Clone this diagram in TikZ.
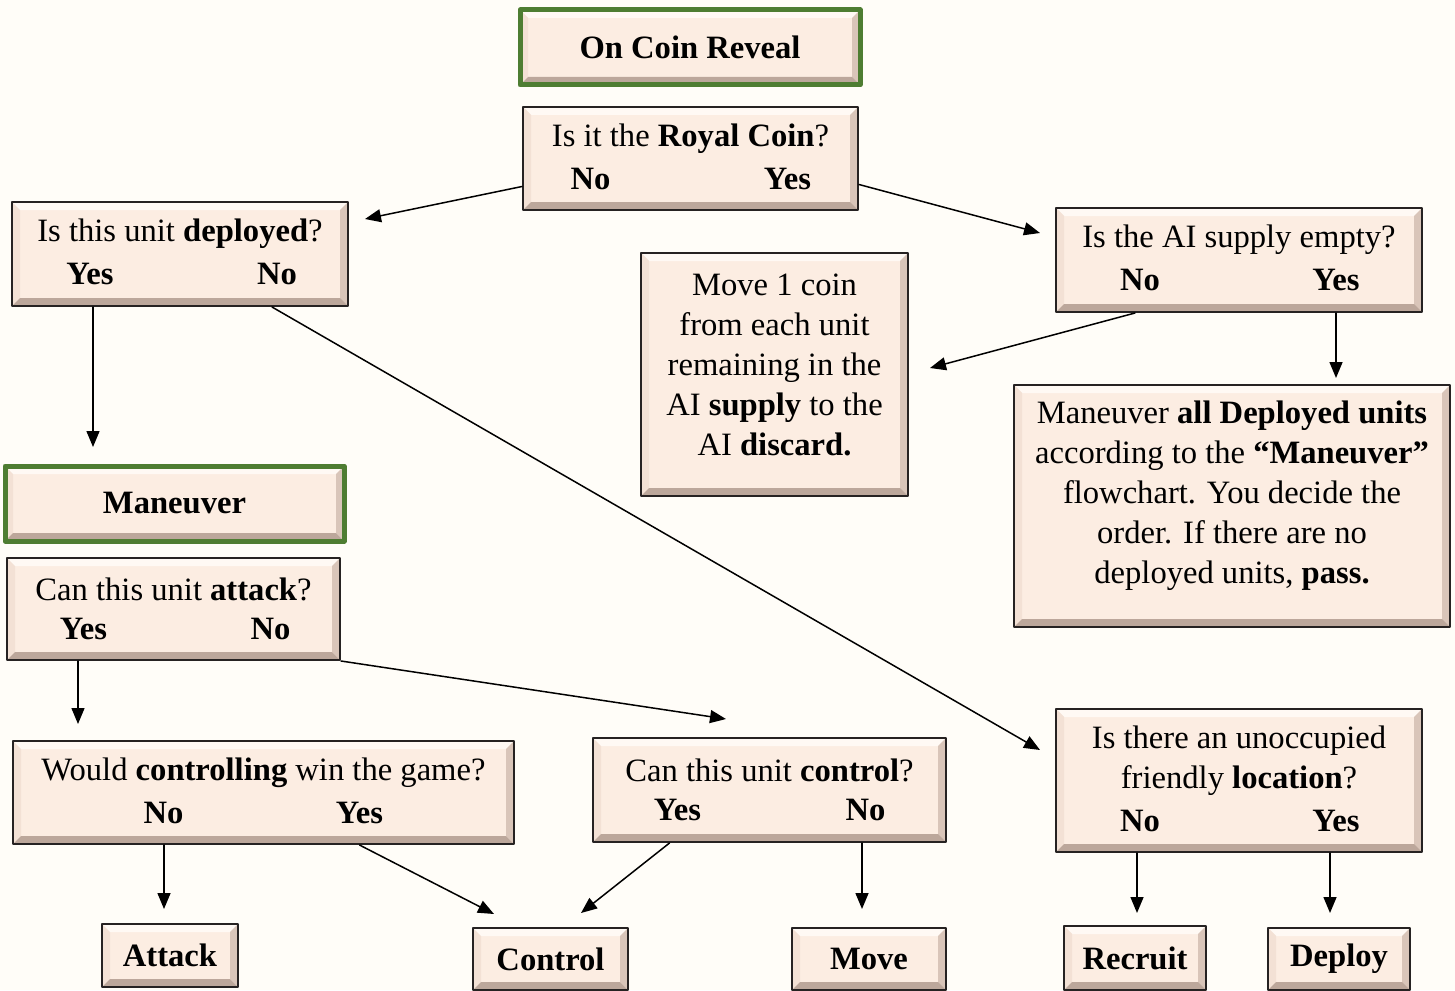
\documentclass[tikz,border=0pt]{standalone}
\usepackage{fontspec}
\setmainfont{Liberation Serif}
\usetikzlibrary{arrows.meta,calc}

\definecolor{paper}{HTML}{FFFDF8}
\definecolor{boxfill}{HTML}{FCEDE2}
\definecolor{bevtop}{HTML}{FFF9F4}
\definecolor{bevleft}{HTML}{F3E1D5}
\definecolor{bevright}{HTML}{D9C5B9}
\definecolor{bevbot}{HTML}{BCA79B}
\definecolor{boxline}{HTML}{262222}
\definecolor{ttlgreen}{HTML}{4E7D32}

\newcommand{\boxfont}{\fontsize{16.3}{20}\selectfont}
% bevel faces of a box
\newcommand{\bevelfaces}{%
  \fill[bevtop] (path picture bounding box.north west) -- (path picture bounding box.north east)
    -- ([shift={(-4pt,-4pt)}]path picture bounding box.north east) -- ([shift={(4pt,-4pt)}]path picture bounding box.north west) -- cycle;
  \fill[bevleft] (path picture bounding box.north west) -- (path picture bounding box.south west)
    -- ([shift={(4pt,4pt)}]path picture bounding box.south west) -- ([shift={(4pt,-4pt)}]path picture bounding box.north west) -- cycle;
  \fill[bevright] (path picture bounding box.north east) -- (path picture bounding box.south east)
    -- ([shift={(-4pt,4pt)}]path picture bounding box.south east) -- ([shift={(-4pt,-4pt)}]path picture bounding box.north east) -- cycle;
  \fill[bevbot] (path picture bounding box.south west) -- (path picture bounding box.south east)
    -- ([shift={(-4pt,4pt)}]path picture bounding box.south east) -- ([shift={(4pt,4pt)}]path picture bounding box.south west) -- cycle;
}

\begin{document}
\begin{tikzpicture}[x=0.5pt, y=-0.5pt, line join=round, line cap=round,
    box/.style={draw=boxline, line width=1pt, fill=boxfill, path picture={\bevelfaces}, inner sep=0pt},
    ttl/.style={box, draw=ttlgreen, line width=2.5pt, font=\boxfont\bfseries},
    endbox/.style={box, font=\boxfont\bfseries},
    txt/.style={font=\boxfont, align=center, inner sep=0pt},
    ans/.style={font=\boxfont\bfseries, inner sep=0pt},
    flow/.style={-{Triangle[length=8pt, width=6.5pt]}, line width=0.75pt}]

    \fill[paper] (0,0) rectangle (1455,990);
    \useasboundingbox (0,0) rectangle (1455,990);

    % titles
    \node[ttl, minimum width=170pt, minimum height=37.5pt] (reveal) at (690,47.5) {On Coin Reveal};
    \node[ttl, minimum width=169.5pt, minimum height=37.5pt] (maneuver) at (174.5,503.5) {Maneuver};

    % questions
    \node[box, minimum width=167.5pt, minimum height=51.5pt] (royal) at (690.5,158.5) {};
    \node[txt] (royalq) at ([yshift=10pt]royal.center) {Is it the \textbf{Royal Coin}?};
    \node[ans] (royalno) at ([xshift=-50pt, yshift=-10pt]royal.center) {No};
    \node[ans] (royalyes) at ([xshift=48.5pt, yshift=-10pt]royal.center) {Yes};

    \node[box, minimum width=168pt, minimum height=52pt] (dep) at (180,254) {};
    \node[txt] (depq) at ([yshift=10pt]dep.center) {Is this unit \textbf{deployed}?};
    \node[ans] (depyes) at ([xshift=-45pt, yshift=-10pt]dep.center) {Yes};
    \node[ans] (depno) at ([xshift=48.5pt, yshift=-10pt]dep.center) {No};

    \node[box, minimum width=183pt, minimum height=52pt] (supply) at (1239,260) {};
    \node[txt] (supplyq) at ([yshift=10pt]supply.center) {Is the AI supply empty?};
    \node[ans] (supplyno) at ([xshift=-49.5pt, yshift=-10pt]supply.center) {No};
    \node[ans] (supplyyes) at ([xshift=48.5pt, yshift=-10pt]supply.center) {Yes};

    \node[box, minimum width=166.5pt, minimum height=51pt] (atk) at (173.5,609) {};
    \node[txt] (atkq) at ([yshift=10pt]atk.center) {Can this unit \textbf{attack}?};
    \node[ans] (atkyes) at ([xshift=-45pt, yshift=-10pt]atk.center) {Yes};
    \node[ans] (atkno) at ([xshift=48.5pt, yshift=-10pt]atk.center) {No};

    \node[box, minimum width=250.5pt, minimum height=51.5pt] (would) at (263.5,792.5) {};
    \node[txt] (wouldq) at ([yshift=10pt]would.center) {Would \textbf{controlling} win the game?};
    \node[ans] (wouldno) at ([xshift=-50pt, yshift=-10pt]would.center) {No};
    \node[ans] (wouldyes) at ([xshift=48pt, yshift=-10pt]would.center) {Yes};

    \node[box, minimum width=176.5pt, minimum height=52pt] (canctrl) at (769.5,790) {};
    \node[txt] (canctrlq) at ([yshift=10pt]canctrl.center) {Can this unit \textbf{control}?};
    \node[ans] (canctrlyes) at ([xshift=-46pt, yshift=-10pt]canctrl.center) {Yes};
    \node[ans] (canctrlno) at ([xshift=48pt, yshift=-10pt]canctrl.center) {No};

    \node[box, minimum width=183pt, minimum height=71.5pt] (unocc) at (1239,780.5) {};
    \node[txt] (unoccq) at ([yshift=10pt]unocc.center) {Is there an unoccupied\\friendly \textbf{location}?};
    \node[ans] (unoccno) at ([xshift=-49.5pt, yshift=-20pt]unocc.center) {No};
    \node[ans] (unoccyes) at ([xshift=48.5pt, yshift=-20pt]unocc.center) {Yes};

    % actions
    \node[box, minimum width=133.5pt, minimum height=121.5pt] (move1) at (774.5,374.5) {};
    \node[txt] (move1t) at ([yshift=5pt]move1.center) {Move 1 coin\\from each unit\\remaining in the\\AI \textbf{supply} to the\\AI \textbf{discard.}};
    \node[box, minimum width=218pt, minimum height=121pt] (manall) at (1232,506) {};
    \node[txt] (manallt) at ([yshift=5pt]manall.center) {Maneuver \textbf{all Deployed units}\\according to the \textbf{“Maneuver”}\\flowchart. You decide the\\order. If there are no\\deployed units, \textbf{pass.}};

    \node[endbox, minimum width=68pt, minimum height=31.5pt] (attack) at (170,955.5) {Attack};
    \node[endbox, minimum width=77.5pt, minimum height=31pt] (control) at (550.5,959) {Control};
    \node[endbox, minimum width=77pt, minimum height=31pt] (move) at (869,959) {Move};
    \node[endbox, minimum width=71pt, minimum height=32pt] (recruit) at (1135,958) {Recruit};
    \node[endbox, minimum width=71pt, minimum height=31pt] (deploy) at (1339,959) {Deploy};

    % arrow ends
    \coordinate (depin) at (365,219);
    \coordinate (supplyin) at (1040,233);
    \coordinate (manin) at (93,447);
    \coordinate (unoccin) at (1040,750);
    \coordinate (move1in) at (930,368);
    \coordinate (manallin) at (1336,378);
    \coordinate (atkin) at (78,724);
    \coordinate (canctrlin) at (726,719);
    \coordinate (attackin) at (164,909);
    \coordinate (controlinA) at (494,914);
    \coordinate (controlinB) at (581,913);
    \coordinate (movein) at (862,909);
    \coordinate (recruitin) at (1137,913);
    \coordinate (deployin) at (1330,913);

    \draw[flow] ([yshift=-14pt]royal.west) -- (depin);
    \draw[flow] ([yshift=-13pt]royal.east) -- (supplyin);
    \draw[flow] (manin |- dep.south) -- (manin);
    \draw[flow] ([xshift=-2.5pt]depno.center |- dep.south) -- (unoccin);
    \draw[flow] ([xshift=-2.5pt]supplyno.center |- supply.south) -- (move1in);
    \draw[flow] (manallin |- supply.south) -- (manallin);
    \draw[flow] (atkin |- atk.south) -- (atkin);
    \draw[flow] (atk.south east) -- (canctrlin);
    \draw[flow] (attackin |- would.south) -- (attackin);
    \draw[flow] (wouldyes |- would.south) -- (controlinA);
    \draw[flow] ([xshift=-4pt]canctrlyes.center |- canctrl.south) -- (controlinB);
    \draw[flow] (movein |- canctrl.south) -- (movein);
    \draw[flow] (recruitin |- unocc.south) -- (recruitin);
    \draw[flow] (deployin |- unocc.south) -- (deployin);
\end{tikzpicture}
\end{document}
